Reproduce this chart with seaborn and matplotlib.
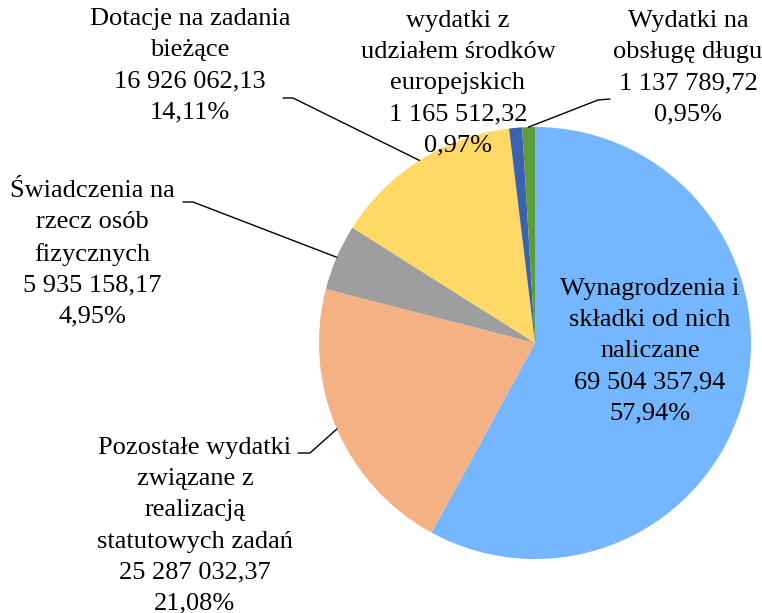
import numpy as np
import matplotlib
matplotlib.use("Agg")
import matplotlib.pyplot as plt
import seaborn as sns

# Budget expenditure categories (clockwise from the top)
categories = [
    "Wynagrodzenia i\nskładki od nich\nnaliczane",
    "Pozostałe wydatki\nzwiązane z\nrealizacją\nstatutowych zadań",
    "Świadczenia na\nrzecz osób\nfizycznych",
    "Dotacje na zadania\nbieżące",
    "wydatki z\nudziałem środków\neuropejskich",
    "Wydatki na\nobsługę długu",
]
amounts = [69504357.94, 25287032.37, 5935158.17, 16926062.13, 1165512.32, 1137789.72]
colors = ["#74B6FF", "#F4B183", "#9E9E9E", "#FFD966", "#3A62AD", "#5E9B3A"]

sns.set_theme(style="white")
plt.rcParams["font.family"] = ["Liberation Serif", "DejaVu Serif"]

W, H = 762, 613
fig = plt.figure(figsize=(W / 100, H / 100), dpi=100)
ax = fig.add_axes([0, 0, 1, 1])

# pixel layout -> data units (pie radius = 1)
cx, cy, rpx = 535, 343, 216
def px(x, y):
    return ((x - cx) / rpx, (cy - y) / rpx)

wedges, _ = ax.pie(amounts, colors=colors, startangle=90, counterclock=False,
                   radius=1.0, wedgeprops=dict(linewidth=0))

ax.set_xlim(px(0, 0)[0], px(W, 0)[0])
ax.set_ylim(px(0, H)[1], px(0, 0)[1])
ax.set_aspect("equal")
ax.axis("off")

total = sum(amounts)

def fmt_amount(v):
    s = f"{v:,.2f}"
    return s.replace(",", " ").replace(".", ",")

def fmt_pct(v):
    return f"{100 * v / total:.2f}".replace(".", ",") + "%"

labels = [f"{c}\n{fmt_amount(v)}\n{fmt_pct(v)}" for c, v in zip(categories, amounts)]

# label block centres (pixels)
label_pos = [(650, 351), (195, 526), (92, 254), (190, 66), (458, 83), (688, 68)]
# leader line start points (text end, short horizontal stub)
leaders = {
    1: [(298, 453), (310, 453)],
    2: [(183, 202), (193, 202)],
    3: [(283, 98), (293, 98)],
    5: [(610, 99), (598, 100)],
}

for i, (lab, (lx, ly)) in enumerate(zip(labels, label_pos)):
    x, y = px(lx, ly)
    ax.text(x, y, lab, ha="center", va="center", multialignment="center",
            fontsize=19, color="black", linespacing=1.53, zorder=5)
    if i in leaders:
        w = wedges[i]
        mid = np.deg2rad((w.theta1 + w.theta2) / 2)
        ex, ey = np.cos(mid), np.sin(mid)
        pts = [px(*p) for p in leaders[i]] + [(ex, ey)]
        xs, ys = zip(*pts)
        ax.plot(xs, ys, color="black", linewidth=1.0, zorder=4)

fig.savefig("out.png", dpi=100, facecolor="white")
